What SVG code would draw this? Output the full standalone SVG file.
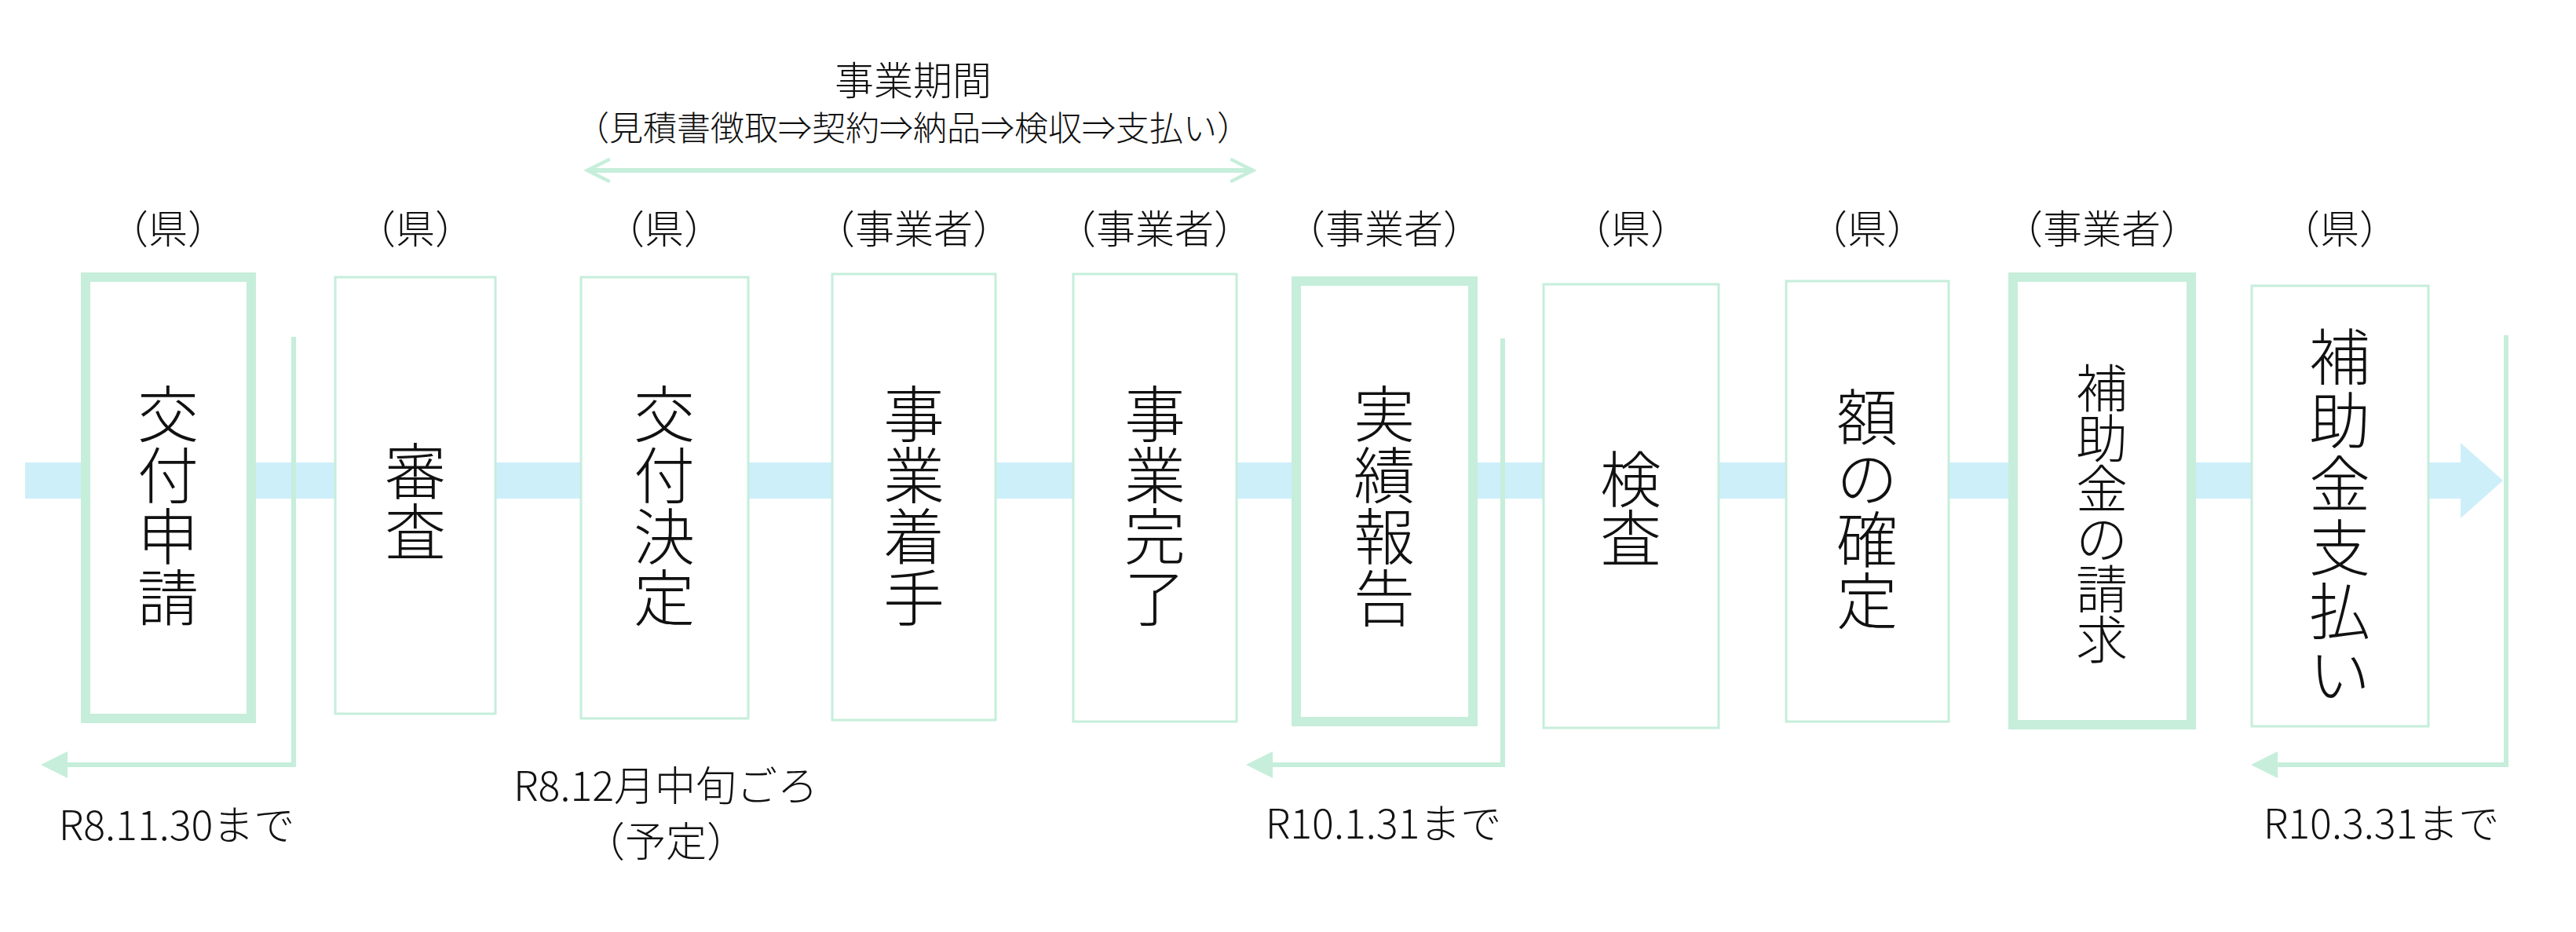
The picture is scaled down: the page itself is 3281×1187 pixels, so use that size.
<svg xmlns="http://www.w3.org/2000/svg" width="3281" height="1187" viewBox="0 0 3281 1187">
<style>
text{font-family:"Noto Sans CJK JP","Noto Sans",sans-serif;font-weight:300;fill:#111;text-anchor:middle;dominant-baseline:central}
.lab{font-size:50px}
.note{font-size:52px}
.big{font-size:78px}
.mid{font-size:66px}
.thin{fill:#fff;stroke:#c6eedb;stroke-width:3}
.thick{fill:#fff;stroke:#c6eedb;stroke-width:12}
.ln{fill:none;stroke:#c6eedb;stroke-width:6}
.tri{fill:#c6eedb}
</style>
<defs>
<marker id="ah2" viewBox="0 0 10 10" refX="9" refY="5" markerWidth="6" markerHeight="6" orient="auto-start-reverse" markerUnits="strokeWidth"><path d="M1,1 L9,5 L1,9" fill="none" stroke="#c6eedb" stroke-width="1.2"/></marker>
</defs>
<rect width="3281" height="1187" fill="#fff"/>
<g id="band">
<rect x="32" y="589" width="3104" height="46" fill="#cdeffa"/>
<path d="M3134,564 L3188,612 L3134,660 Z" fill="#cdeffa"/>
</g>
<g id="connectors">
<line class="ln" x1="748" y1="217" x2="1596" y2="217" marker-start="url(#ah2)" marker-end="url(#ah2)" stroke-width="4"/>
<path class="ln" d="M374,429 V974 H85"/><path class="tri" d="M52,974 L86,957 L86,991 Z"/>
<path class="ln" d="M1914,431 V974 H1620"/><path class="tri" d="M1587,974 L1621,957 L1621,991 Z"/>
<path class="ln" d="M3192,427 V974 H2900"/><path class="tri" d="M2867,974 L2901,957 L2901,991 Z"/>
</g>
<g id="period">
<text x="1163" y="99" class="lab">事業期間</text>
<text x="1163" y="160" style="font-size:43px">（見積書徴取⇒契約⇒納品⇒検収⇒支払い）</text>
</g>
<g id="n1"><rect class="thick" x="109" y="353" width="211" height="562"/><text class="lab" x="214" y="288">（県）</text>
<text class="big" x="214" y="523">交</text><text class="big" x="214" y="601">付</text><text class="big" x="214" y="679">申</text><text class="big" x="214" y="757">請</text></g>
<g id="n2"><rect class="thin" x="427" y="353" width="204" height="556"/><text class="lab" x="529" y="288">（県）</text>
<text class="big" x="529" y="596">審</text><text class="big" x="529" y="673">査</text></g>
<g id="n3"><rect class="thin" x="740" y="353" width="213" height="562"/><text class="lab" x="846" y="288">（県）</text>
<text class="big" x="846" y="523">交</text><text class="big" x="846" y="601">付</text><text class="big" x="846" y="679">決</text><text class="big" x="846" y="757">定</text></g>
<g id="n4"><rect class="thin" x="1060" y="349" width="208" height="568"/><text class="lab" x="1164" y="288">（事業者）</text>
<text class="big" x="1164" y="523">事</text><text class="big" x="1164" y="601">業</text><text class="big" x="1164" y="679">着</text><text class="big" x="1164" y="757">手</text></g>
<g id="n5"><rect class="thin" x="1367" y="349" width="208" height="570"/><text class="lab" x="1471" y="288">（事業者）</text>
<text class="big" x="1471" y="523">事</text><text class="big" x="1471" y="601">業</text><text class="big" x="1471" y="679">完</text><text class="big" x="1471" y="757">了</text></g>
<g id="n6"><rect class="thick" x="1651" y="358" width="225" height="561"/><text class="lab" x="1763" y="288">（事業者）</text>
<text class="big" x="1763" y="523">実</text><text class="big" x="1763" y="601">績</text><text class="big" x="1763" y="679">報</text><text class="big" x="1763" y="757">告</text></g>
<g id="n7"><rect class="thin" x="1966" y="362" width="223" height="565"/><text class="lab" x="2077" y="288">（県）</text>
<text class="big" x="2077" y="606">検</text><text class="big" x="2077" y="681">査</text></g>
<g id="n8"><rect class="thin" x="2275" y="358" width="207" height="561"/><text class="lab" x="2378" y="288">（県）</text>
<text class="big" x="2378" y="527">額</text><text class="big" x="2378" y="605">の</text><text class="big" x="2378" y="683">確</text><text class="big" x="2378" y="761">定</text></g>
<g id="n9"><rect class="thick" x="2564" y="353" width="227" height="570"/><text class="lab" x="2677" y="288">（事業者）</text>
<text class="mid" x="2677" y="490">補</text><text class="mid" x="2677" y="554">助</text><text class="mid" x="2677" y="618">金</text><text class="mid" x="2677" y="682">の</text><text class="mid" x="2677" y="746">請</text><text class="mid" x="2677" y="810">求</text></g>
<g id="n10"><rect class="thin" x="2868" y="364" width="225" height="561"/><text class="lab" x="2980" y="288">（県）</text>
<text class="big" x="2980" y="450">補</text><text class="big" x="2980" y="531">助</text><text class="big" x="2980" y="612">金</text><text class="big" x="2980" y="693">支</text><text class="big" x="2980" y="774">払</text><text class="big" x="2980" y="855">い</text></g>
<g id="notes">
<text class="note" x="225" y="1047">R8.11.30まで</text>
<text class="note" x="848" y="997">R8.12月中旬ごろ</text>
<text class="note" x="848" y="1068">（予定）</text>
<text class="note" x="1762" y="1045">R10.1.31まで</text>
<text class="note" x="3033" y="1045">R10.3.31まで</text>
</g>
</svg>
